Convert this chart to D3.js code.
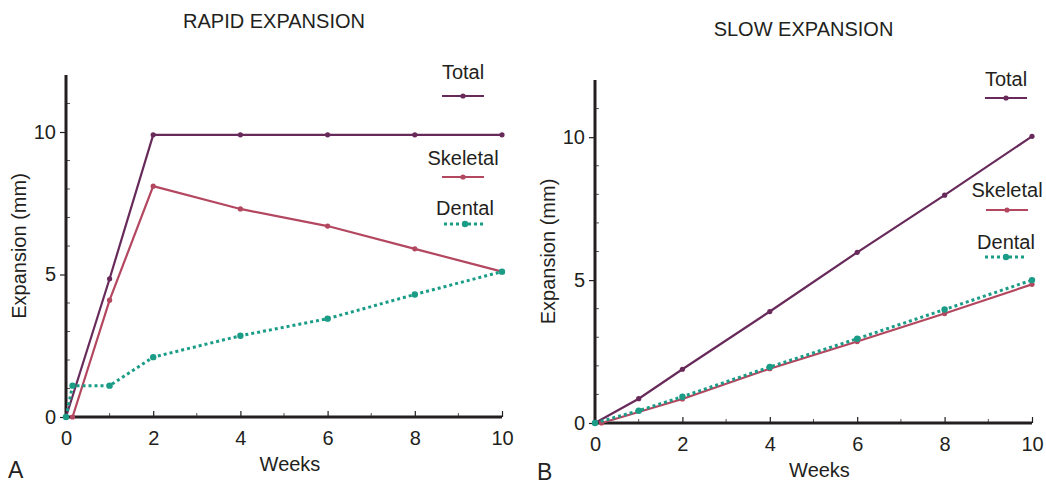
<!DOCTYPE html>
<html>
<head>
<meta charset="utf-8">
<script src="https://d3js.org/d3.v7.min.js"></script>
<style>
  body { margin: 0; background: #fff; }
  text { font-family: "Liberation Sans", Arial, sans-serif; fill: #231f20; }
</style>
</head>
<body>
<div id="chart"></div>
<script>
// values (weeks, mm)
var rapidTotalWeeks = [0, 1, 2, 4, 6, 8, 10];
var rapidTotal      = [0, 4.85, 9.9, 9.9, 9.9, 9.9, 9.9];
var rapidSkelWeeks  = [0.15, 1, 2, 4, 6, 8, 10];
var rapidSkeletal   = [0, 4.1, 8.1, 7.3, 6.7, 5.9, 5.1];
var rapidDentWeeks  = [0, 0.15, 1, 2, 4, 6, 8, 10];
var rapidDental     = [0, 1.1, 1.1, 2.1, 2.85, 3.45, 4.3, 5.1];

var slowTotalWeeks = [0, 1, 2, 4, 6, 8, 10];
var slowTotal      = [0, 0.85, 1.88, 3.9, 5.97, 7.97, 10.03];
var slowSkelWeeks  = [0.15, 2, 4, 6, 8, 10];
var slowSkeletal   = [0, 0.84, 1.9, 2.85, 3.83, 4.85];
var slowDentWeeks  = [0, 1, 2, 4, 6, 8, 10];
var slowDental     = [0, 0.43, 0.92, 1.96, 2.95, 3.97, 5.0];

var xTicks = [0, 2, 4, 6, 8, 10];
var yTicks = [0, 5, 10];
var seriesNames = ["Total", "Skeletal", "Dental"];

var colors = { Total: "#682a5a", Skeletal: "#b44760", Dental: "#1a9c86" };
var fs = "20px";

var svg = d3.select("#chart").append("svg")
    .attr("width", 1046).attr("height", 484);

function zip(w, v) { return w.map(function (d, i) { return { x: d, y: v[i] }; }); }

function drawPanel(p) {
  var x = d3.scaleLinear().domain([0, 10]).range([p.x0, p.x1]);
  var y = d3.scaleLinear().domain([0, 12]).range([p.y0, p.y1]);
  var g = svg.append("g");

  // minor ticks
  g.append("g").selectAll("line").data(d3.range(1, 12).filter(function (d) { return d % 5; }))
    .join("line")
    .attr("x1", p.x0).attr("x2", p.x0 + 4)
    .attr("y1", function (d) { return y(d); }).attr("y2", function (d) { return y(d); })
    .attr("stroke", "#555").attr("stroke-width", 1);
  g.append("g").selectAll("line").data(d3.range(1, 10, 2))
    .join("line")
    .attr("x1", function (d) { return x(d); }).attr("x2", function (d) { return x(d); })
    .attr("y1", p.y0).attr("y2", p.y0 - 4)
    .attr("stroke", "#555").attr("stroke-width", 1);

  // axes
  var xAxis = g.append("g").attr("transform", "translate(0," + p.y0 + ")")
    .call(d3.axisBottom(x).tickValues(xTicks).tickSizeInner(-6).tickSizeOuter(0).tickPadding(14));
  var yAxis = g.append("g").attr("transform", "translate(" + p.x0 + ",0)")
    .call(d3.axisLeft(y).tickValues(yTicks).tickSizeInner(6).tickSizeOuter(0).tickPadding(4));
  [xAxis, yAxis].forEach(function (a) {
    a.select(".domain").attr("stroke", "#231f20").attr("stroke-width", 3);
    a.selectAll(".tick line").attr("stroke", "#231f20").attr("stroke-width", 1.2);
    a.selectAll(".tick text").style("font-size", fs).style("font-family", "Liberation Sans, Arial, sans-serif").attr("fill", "#231f20");
  });
  yAxis.select(".domain").attr("d", "M0," + y(0) + "V" + y(12));
  xAxis.select(".domain").attr("d", "M" + x(0) + ",0H" + x(10));

  var line = d3.line().x(function (d) { return x(d.x); }).y(function (d) { return y(d.y); });

  p.series.forEach(function (s) {
    var c = colors[s.name];
    var dotted = s.name === "Dental";
    g.append("path").datum(s.data)
      .attr("d", line).attr("fill", "none").attr("stroke", c)
      .attr("stroke-width", dotted ? 3 : 2.2)
      .attr("stroke-dasharray", dotted ? "3,3" : null);
    g.append("g").selectAll("circle").data(s.data).join("circle")
      .attr("cx", function (d) { return x(d.x); }).attr("cy", function (d) { return y(d.y); })
      .attr("r", dotted ? 3.2 : 2.6).attr("fill", c);
  });

  // legend
  p.legend.forEach(function (l) {
    var c = colors[l.name];
    var dotted = l.name === "Dental";
    svg.append("text").attr("x", l.cx).attr("y", l.ty).attr("text-anchor", "middle")
      .style("font-size", fs).text(l.name);
    svg.append("line").attr("x1", l.cx - 21).attr("x2", l.cx + 21)
      .attr("y1", l.ly).attr("y2", l.ly).attr("stroke", c)
      .attr("stroke-width", dotted ? 3 : 2.2)
      .attr("stroke-dasharray", dotted ? "3,3" : null);
    svg.append("circle").attr("cx", l.cx).attr("cy", l.ly).attr("r", dotted ? 3.2 : 2.6).attr("fill", c);
  });

  svg.append("text").attr("x", (p.x0 + p.x1) / 2 + p.titleDx).attr("y", p.titleY)
    .attr("text-anchor", "middle").style("font-size", fs).text(p.title);
  svg.append("text").attr("x", (p.x0 + p.x1) / 2 + 6).attr("y", p.y0 + 54)
    .attr("text-anchor", "middle").style("font-size", fs).text("Weeks");
  svg.append("text")
    .attr("transform", "translate(" + (p.x0 - 40) + "," + (p.y0 + p.y1) / 2 + ") rotate(-90)")
    .attr("text-anchor", "middle").style("font-size", fs).text("Expansion (mm)");
  svg.append("text").attr("x", p.x0 - 58).attr("y", p.letterY)
    .style("font-size", "23px").text(p.letter);
}

drawPanel({
  x0: 66, x1: 502, y0: 417, y1: 75, title: "RAPID EXPANSION", titleDx: -10, titleY: 28,
  letter: "A", letterY: 478,
  series: [
    { name: "Total", data: zip(rapidTotalWeeks, rapidTotal) },
    { name: "Skeletal", data: zip(rapidSkelWeeks, rapidSkeletal) },
    { name: "Dental", data: zip(rapidDentWeeks, rapidDental) }
  ],
  legend: [
    { name: "Total", cx: 463, ty: 79, ly: 96 },
    { name: "Skeletal", cx: 463, ty: 165, ly: 177 },
    { name: "Dental", cx: 465, ty: 215, ly: 224 }
  ]
});

drawPanel({
  x0: 595, x1: 1032, y0: 423, y1: 80, title: "SLOW EXPANSION", titleDx: -10, titleY: 36,
  letter: "B", letterY: 480,
  series: [
    { name: "Total", data: zip(slowTotalWeeks, slowTotal) },
    { name: "Skeletal", data: zip(slowSkelWeeks, slowSkeletal) },
    { name: "Dental", data: zip(slowDentWeeks, slowDental) }
  ],
  legend: [
    { name: "Total", cx: 1006, ty: 86, ly: 98 },
    { name: "Skeletal", cx: 1007, ty: 197, ly: 210 },
    { name: "Dental", cx: 1006, ty: 249, ly: 257 }
  ]
});
</script>
</body>
</html>
